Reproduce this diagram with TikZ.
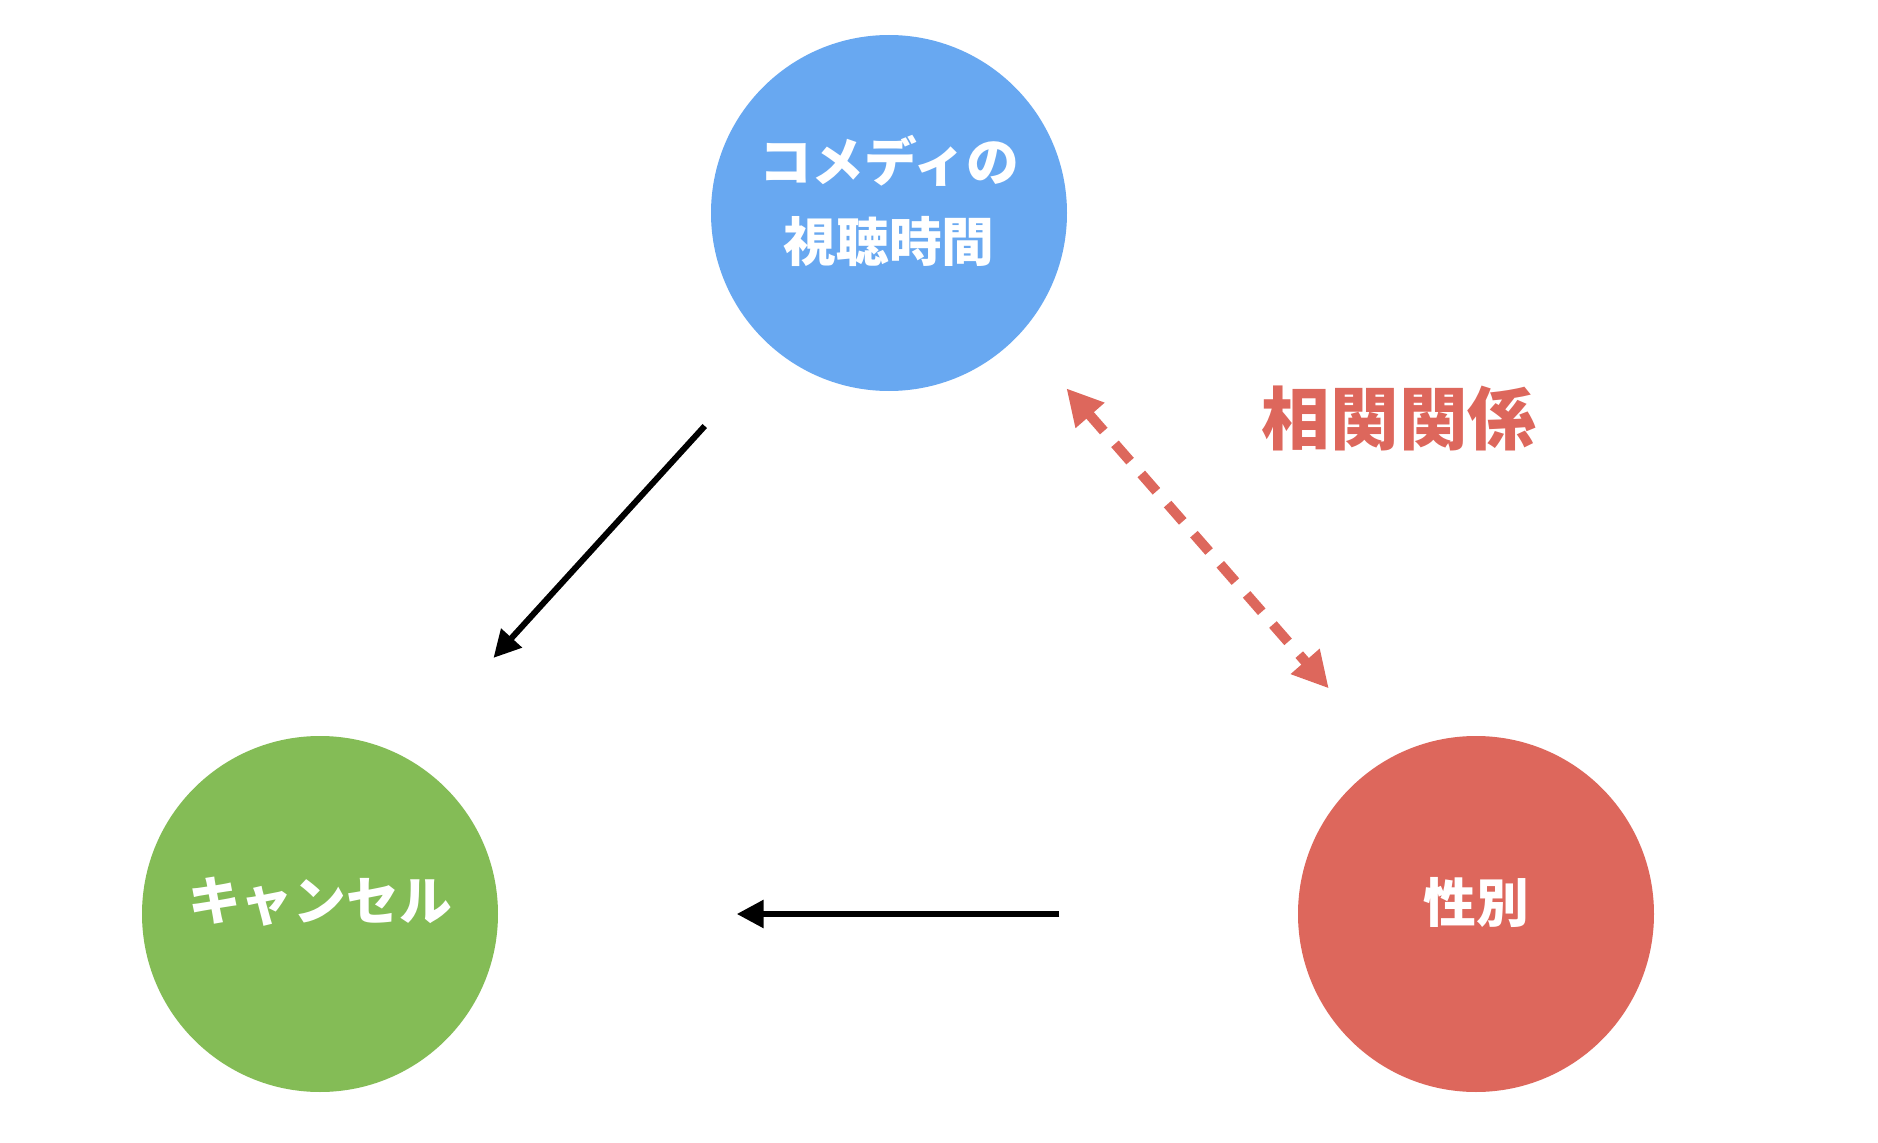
\documentclass[tikz,border=0pt]{standalone}
\usepackage{fontspec}
\newfontfamily\jpfont{Noto Sans CJK JP}
\definecolor{mlblue}{RGB}{104,168,241}
\definecolor{mlgreen}{RGB}{132,188,86}
\definecolor{mlred}{RGB}{221,103,92}
\usetikzlibrary{arrows.meta,positioning}

\begin{document}
\begin{tikzpicture}[
  every node/.style={font=\jpfont\bfseries},
  factor/.style={circle,minimum size=3.56cm,inner sep=0pt},
  ftext/.style={text=white,font=\jpfont\bfseries\fontsize{15pt}{22.8pt}\selectfont,
                align=center,yshift=0.12cm},
  arr/.style={-{Triangle[length=0.27cm,width=0.27cm]},line width=0.06cm,black},
  corr/.style={{Triangle[length=0.36cm,width=0.36cm]}-{Triangle[length=0.36cm,width=0.36cm]},
               line width=0.1cm,dash pattern=on 0.23cm off 0.17cm,mlred},
]
  % canvas
  \useasboundingbox (0,0) rectangle (18.78,11.42);

  % factors
  \node[factor,fill=mlblue,label={[ftext]center:コメディの\\視聴時間}] (comedy) at (8.89,9.29) {};
  \node[factor,fill=mlgreen,label={[ftext]center:キャンセル}] (cancel) at (3.20,2.28) {};
  \node[factor,fill=mlred,label={[ftext]center:性別}] (gender) at (14.76,2.28) {};

  % causal arrows
  \draw[arr,shorten <=1.03cm,shorten >=1.33cm] (comedy.230) -- (cancel.62);
  \draw[arr,shorten <=2.38cm,shorten >=2.38cm] (gender) -- (cancel);

  % correlation
  \draw[corr,shorten <=0.71cm,shorten >=0.92cm] (comedy.-43) -- (gender.119);
  \node[text=mlred,font=\jpfont\bfseries\fontsize{19.5pt}{24pt}\selectfont] (corrlabel) at (13.99,7.24) {相関関係};
\end{tikzpicture}
\end{document}
